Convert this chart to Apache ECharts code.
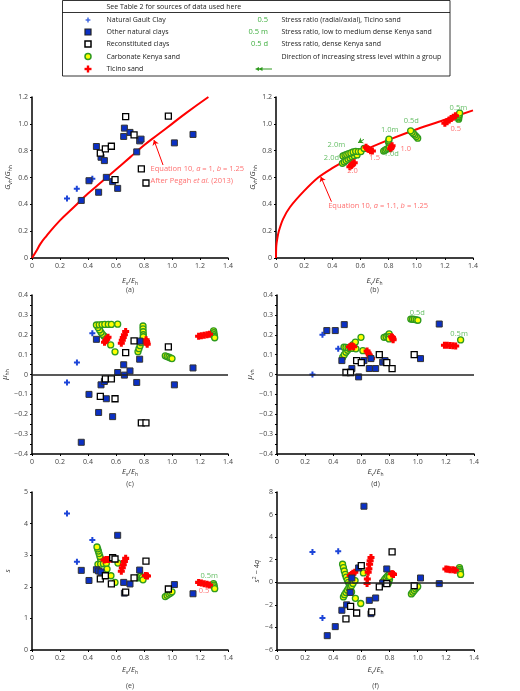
<!DOCTYPE html>
<html>
<head>
<meta charset="utf-8">
<script src="https://cdn.jsdelivr.net/npm/echarts@6/dist/echarts.min.js"></script>
<style>
  html, body { margin: 0; padding: 0; background: #fff; }
  #main { width: 520px; height: 691px; }
</style>
</head>
<body>
<div id="main"></div>
<script>
var F = 'Open Sans';
var BLUE = '#0b30c4', RED = '#ff0000', GREEN = '#2e9a1e', YEL = '#ffff00', LGREEN = '#3fae3f', LRED = '#ff4b4b';

// (a) Gvh/Ghh, clays
var gaultA = [[0.25, 0.444], [0.32, 0.516], [0.431, 0.59]];
var naturalA = [[0.352, 0.429], [0.407, 0.576], [0.46, 0.831], [0.476, 0.49], [0.493, 0.751], [0.517, 0.726], [0.531, 0.601], [0.576, 0.569], [0.612, 0.519], [0.655, 0.906], [0.66, 0.968], [0.70, 0.936], [0.748, 0.791], [0.769, 0.873], [0.779, 0.886], [1.017, 0.858], [1.15, 0.921]];
var reconA = [[0.488, 0.781], [0.524, 0.813], [0.567, 0.833], [0.593, 0.584], [0.669, 1.053], [0.729, 0.918], [0.781, 0.664], [0.814, 0.559], [0.974, 1.058]];
var curveA = [[0, 0], [0.03, 0.05], [0.06, 0.105], [0.1, 0.16], [0.2, 0.28], [0.3, 0.38], [0.4, 0.48], [0.5, 0.57], [0.6, 0.66], [0.7, 0.75], [0.8, 0.84], [0.9, 0.92], [1.0, 1.0], [1.1, 1.08], [1.26, 1.2]];

// (b) Gvh/Ghh, sands
var kenyaB = [[0.472, 0.706], [0.485, 0.716], [0.498, 0.726], [0.512, 0.736], [0.526, 0.746], [0.54, 0.755], [0.555, 0.762], [0.576, 0.768],
  [0.476, 0.761], [0.49, 0.767], [0.503, 0.772], [0.517, 0.778], [0.532, 0.783], [0.548, 0.79], [0.566, 0.795], [0.585, 0.793], [0.604, 0.793], [0.626, 0.817],
  [0.765, 0.797], [0.775, 0.803], [0.785, 0.81], [0.796, 0.817], [0.806, 0.824],
  [0.8, 0.862], [0.801, 0.872], [0.803, 0.886],
  [1.007, 0.893], [0.997, 0.905], [0.987, 0.916], [0.977, 0.926], [0.967, 0.937], [0.957, 0.948],
  [1.298, 1.035], [1.298, 1.045], [1.3, 1.055], [1.302, 1.066], [1.305, 1.08]];
var ticinoB = [[0.525, 0.68], [0.535, 0.69], [0.545, 0.70], [0.556, 0.71],
  [0.64, 0.825], [0.65, 0.815], [0.66, 0.808], [0.672, 0.80], [0.685, 0.797],
  [0.815, 0.815], [0.82, 0.825], [0.825, 0.836],
  [1.20, 1.005], [1.215, 1.016], [1.23, 1.028], [1.245, 1.04], [1.26, 1.05], [1.275, 1.06]];
var curveB = [[0, 0], [0.002, 0.09], [0.01, 0.15], [0.02, 0.2], [0.05, 0.29], [0.1, 0.38], [0.2, 0.5], [0.3, 0.6], [0.4, 0.67], [0.5, 0.73], [0.6, 0.79], [0.8, 0.88], [1.0, 0.96], [1.2, 1.03], [1.4, 1.1]];
var greenLabB = [[1.296, 1.12, '0.5m'], [0.962, 1.021, '0.5d'], [0.808, 0.954, '1.0m'], [0.82, 0.773, '1.0d'], [0.429, 0.847, '2.0m'], [0.394, 0.743, '2.0d']];
var redLabB = [[1.277, 0.961, '0.5'], [0.922, 0.81, '1.0'], [0.701, 0.747, '1.5'], [0.543, 0.648, '2.0']];

// (c) mu_hh
var gaultC = [[0.25, -0.04], [0.321, 0.06], [0.431, 0.207]];
var naturalC = [[0.352, -0.341], [0.407, -0.10], [0.46, 0.177], [0.476, -0.191], [0.493, -0.052], [0.517, -0.035], [0.531, -0.122], [0.576, -0.212], [0.612, 0.01], [0.655, 0.049], [0.66, -0.003], [0.70, 0.018], [0.748, -0.04], [0.769, 0.077], [0.771, 0.168], [1.017, -0.052], [1.15, 0.033]];
var reconC = [[0.488, -0.11], [0.524, -0.022], [0.567, -0.022], [0.593, -0.122], [0.669, 0.11], [0.729, 0.169], [0.781, -0.243], [0.814, -0.243], [0.974, 0.139]];
var kenyaC = [[0.514, 0.194], [0.503, 0.202], [0.493, 0.212], [0.483, 0.224], [0.472, 0.236], [0.46, 0.249],
  [0.48, 0.25], [0.5, 0.251], [0.52, 0.252], [0.545, 0.252], [0.567, 0.252],
  [0.612, 0.253], [0.562, 0.149], [0.593, 0.114],
  [0.757, 0.115], [0.764, 0.13], [0.772, 0.145], [0.78, 0.16], [0.787, 0.172], [0.794, 0.182],
  [0.793, 0.244], [0.793, 0.23], [0.794, 0.215], [0.795, 0.2], [0.795, 0.19],
  [0.952, 0.094], [0.965, 0.09], [0.978, 0.087], [0.99, 0.083], [1.0, 0.08],
  [1.297, 0.22], [1.299, 0.21], [1.301, 0.2], [1.303, 0.192], [1.305, 0.185]];
var ticinoC = [[0.518, 0.162], [0.526, 0.17], [0.534, 0.178], [0.543, 0.187],
  [0.638, 0.157], [0.645, 0.172], [0.652, 0.186], [0.66, 0.2], [0.669, 0.216],
  [0.815, 0.175], [0.818, 0.166], [0.82, 0.16], [0.823, 0.152],
  [1.19, 0.192], [1.21, 0.195], [1.23, 0.197], [1.25, 0.2], [1.268, 0.203]];

// (d) mu_vh
var gaultD = [[0.252, 0.0], [0.323, 0.2], [0.435, 0.13]];
var naturalD = [[0.354, 0.221], [0.414, 0.221], [0.461, 0.07], [0.478, 0.251], [0.532, 0.03], [0.58, -0.012], [0.618, 0.07], [0.656, 0.03], [0.668, 0.08], [0.701, 0.03], [0.751, 0.062], [0.768, 0.07], [1.02, 0.08], [1.153, 0.254]];
var reconD = [[0.49, 0.01], [0.523, 0.01], [0.566, 0.07], [0.599, 0.06], [0.727, 0.10], [0.78, 0.06], [0.818, 0.03], [0.975, 0.10]];
var kenyaD = [[0.467, 0.087], [0.478, 0.1], [0.49, 0.112], [0.502, 0.122], [0.514, 0.131], [0.527, 0.14], [0.54, 0.15],
  [0.476, 0.137], [0.49, 0.136], [0.505, 0.135], [0.52, 0.134], [0.54, 0.131], [0.561, 0.129],
  [0.557, 0.163], [0.597, 0.187], [0.61, 0.12],
  [0.761, 0.187], [0.775, 0.19], [0.788, 0.196], [0.797, 0.204], [0.797, 0.19], [0.797, 0.179],
  [0.951, 0.279], [0.963, 0.278], [0.976, 0.277], [0.989, 0.275], [1.001, 0.273],
  [1.305, 0.174]];
var ticinoD = [[0.515, 0.138], [0.525, 0.142], [0.535, 0.143], [0.545, 0.14],
  [0.64, 0.118], [0.648, 0.108], [0.656, 0.098], [0.664, 0.088], [0.672, 0.08],
  [0.815, 0.19], [0.82, 0.186], [0.823, 0.18], [0.825, 0.175],
  [1.19, 0.147], [1.21, 0.147], [1.23, 0.146], [1.25, 0.145], [1.27, 0.143]];
var greenLabD = [[0.997, 0.312, '0.5d'], [1.294, 0.203, '0.5m']];

// (e) s
var gaultE = [[0.25, 4.32], [0.321, 2.79], [0.431, 3.48]];
var naturalE = [[0.352, 2.52], [0.407, 2.2], [0.46, 2.54], [0.476, 2.5], [0.493, 2.47], [0.612, 3.63], [0.655, 2.14], [0.66, 1.8], [0.70, 2.09], [0.769, 2.53], [1.017, 2.07], [1.15, 1.78]];
var reconE = [[0.488, 2.25], [0.524, 2.35], [0.567, 2.09], [0.576, 2.92], [0.593, 2.88], [0.669, 1.83], [0.729, 2.28], [0.814, 2.81], [0.974, 1.93]];
var kenyaE = [[0.495, 2.8], [0.49, 2.88], [0.485, 2.96], [0.479, 3.05], [0.474, 3.13], [0.469, 3.2], [0.464, 3.26],
  [0.471, 2.71], [0.49, 2.72], [0.51, 2.73], [0.531, 2.74],
  [0.536, 2.56], [0.564, 2.35], [0.593, 2.14], [0.614, 2.75],
  [0.757, 2.28], [0.768, 2.31], [0.778, 2.34], [0.788, 2.3], [0.793, 2.22],
  [0.952, 1.69], [0.965, 1.73], [0.978, 1.77], [0.99, 1.8], [1.0, 1.84],
  [1.297, 2.1], [1.3, 2.05], [1.302, 2.0], [1.305, 1.94]];
var ticinoE = [[0.515, 2.85], [0.53, 2.86], [0.545, 2.86], [0.56, 2.87],
  [0.638, 2.49], [0.645, 2.6], [0.652, 2.7], [0.66, 2.8], [0.669, 2.9],
  [0.81, 2.36], [0.818, 2.35], [0.825, 2.34],
  [1.19, 2.14], [1.21, 2.12], [1.23, 2.1], [1.25, 2.08], [1.268, 2.06]];
var greenLabE = [[1.266, 2.34, '0.5m']];
var redLabE = [[1.229, 1.88, '0.5']];

// (f) s^2 - 4q
var gaultF = [[0.252, 2.69], [0.323, -3.16], [0.435, 2.75]];
var naturalF = [[0.357, -4.73], [0.414, -3.93], [0.461, -2.48], [0.495, -2.0], [0.52, -0.9], [0.532, 0.38], [0.58, 1.27], [0.618, 6.74], [0.656, -1.6], [0.668, -2.78], [0.701, -1.39], [0.751, -0.06], [0.78, 1.18], [1.02, 0.38], [1.153, -0.12]];
var reconF = [[0.49, -3.25], [0.523, -2.13], [0.566, -2.72], [0.599, 1.48], [0.673, -2.63], [0.727, -0.41], [0.78, -0.12], [0.818, 2.69], [0.975, -0.3]];
var kenyaF = [[0.466, 1.6], [0.472, 1.3], [0.478, 1.0], [0.485, 0.7], [0.492, 0.45], [0.5, 0.2], [0.508, 0.0], [0.515, -0.2], [0.522, -0.4],
  [0.472, -1.3], [0.48, -1.1], [0.49, -0.9], [0.5, -0.7], [0.51, -0.5], [0.52, -0.4], [0.53, -0.3], [0.54, -0.1], [0.555, 0.15],
  [0.53, -0.85], [0.557, -1.42], [0.595, -1.88], [0.614, 0.83],
  [0.757, 0.1], [0.765, 0.25], [0.775, 0.4], [0.785, 0.55], [0.795, 0.65], [0.8, 0.7],
  [0.79, -0.1], [0.795, 0.1], [0.8, 0.3], [0.8, 0.5],
  [0.955, -1.03], [0.965, -0.88], [0.975, -0.73], [0.985, -0.58], [0.995, -0.45], [1.0, -0.38],
  [1.297, 1.3], [1.299, 1.15], [1.301, 1.0], [1.303, 0.85], [1.305, 0.7]];
var ticinoF = [[0.52, 0.6], [0.53, 0.7], [0.54, 0.8], [0.553, 0.9],
  [0.64, -0.1], [0.642, 0.3], [0.648, 0.9], [0.653, 1.2], [0.658, 1.6], [0.662, 1.9], [0.668, 2.2],
  [0.815, 0.75], [0.822, 0.75], [0.828, 0.7],
  [1.2, 1.18], [1.215, 1.15], [1.23, 1.12], [1.25, 1.1], [1.267, 1.06]];

// legend texts
var legendRows = ['Natural Gault Clay', 'Other natural clays', 'Reconstituted clays', 'Carbonate Kenya sand', 'Ticino sand'];
var ratioKeys = ['0.5', '0.5 m', '0.5 d'];
var ratioText = ['Stress ratio (radial/axial), Ticino sand', 'Stress ratio, low to medium dense Kenya sand', 'Stress ratio, dense Kenya sand', 'Direction of increasing stress level within a group'];
var captions = ['(a)', '(b)', '(c)', '(d)', '(e)', '(f)'];

var chart = echarts.init(document.getElementById('main'));

var rich = {
  i: { fontFamily: F, fontSize: 7.5, fontStyle: 'italic', color: '#333' },
  n: { fontFamily: F, fontSize: 7.5, color: '#333' },
  s: { fontFamily: F, fontSize: 5, color: '#333', padding: [5, 0, 0, 0] },
  p: { fontFamily: F, fontSize: 5, color: '#333', padding: [0, 0, 5, 0] }
};
var eqRich = {
  n: { fontFamily: F, fontSize: 7.5, color: LRED },
  i: { fontFamily: F, fontSize: 7.5, color: LRED, fontStyle: 'italic' }
};
var PLUS = 'path://M-1,-3H1V-1H3V1H1V3H-1V1H-3V-1H-1Z';
var PLUS_B = 'path://M-1.3,-3H1.3V-1.3H3V1.3H1.3V3H-1.3V1.3H-3V-1.3H-1.3Z';

function fmt(v) {
  if (Math.abs(v) < 1e-9) return '0';
  return (v < 0 ? '\u2212' : '') + Math.abs(v).toFixed(1);
}
function fmtInt(v) {
  if (Math.abs(v) < 1e-9) return '0';
  return (v < 0 ? '\u2212' : '') + Math.abs(v);
}

var grids = [
  { left: 32, top: 97, width: 196, height: 161 },
  { left: 276, top: 97, width: 197, height: 161 },
  { left: 32, top: 295, width: 196, height: 159 },
  { left: 277, top: 295, width: 197, height: 159 },
  { left: 32, top: 492, width: 196, height: 158 },
  { left: 277, top: 492, width: 197, height: 158 }
];
var xGaps = [18, 18, 13, 13, 15, 15];
var yNames = ['{i|G}{s|vh}{n|/}{i|G}{s|hh}', '{i|G}{s|vh}{n|/}{i|G}{s|hh}', '{i|\u03bc}{s|hh}', '{i|\u03bc}{s|vh}', '{i|s}', '{i|s}{p|2}{n| \u2212 4}{i|q}'];
var yGaps = [19, 16, 20, 17, 20, 14];
var yRange = [[0, 1.2, 0.2, fmt], [0, 1.2, 0.2, fmt], [-0.4, 0.4, 0.1, fmt], [-0.4, 0.4, 0.1, fmt], [0, 5, 1, fmtInt], [-6, 8, 2, fmtInt]];
var capTops = [286, 286, 480, 480, 682, 682];

var xAxis = [], yAxis = [], title = [];
for (var k = 0; k < 6; k++) {
  xAxis.push({
    gridIndex: k, type: 'value', min: 0, max: 1.4, interval: 0.2,
    name: '{i|E}{s|v}{n|/}{i|E}{s|h}', nameLocation: 'middle', nameGap: xGaps[k],
    nameTextStyle: { rich: rich },
    axisLine: { onZero: false, lineStyle: { color: '#000', width: 1.5 } },
    axisTick: { show: true, length: 2, lineStyle: { color: '#000' } },
    axisLabel: { fontFamily: F, fontSize: 7, color: '#444', margin: 4, formatter: fmt },
    splitLine: { show: false }
  });
  yAxis.push({
    gridIndex: k, type: 'value', min: yRange[k][0], max: yRange[k][1], interval: yRange[k][2],
    name: yNames[k], nameLocation: 'middle', nameGap: yGaps[k],
    nameTextStyle: { rich: rich },
    axisLine: { onZero: false, lineStyle: { color: '#000', width: 1.5 } },
    axisTick: { show: true, length: 2, lineStyle: { color: '#000' } },
    minorTick: { show: k == 2 || k == 3, splitNumber: 2, length: 2, lineStyle: { color: '#000' } },
    axisLabel: { fontFamily: F, fontSize: 7, color: '#444', margin: 4, formatter: yRange[k][3] },
    splitLine: { show: false }
  });
  var g = grids[k];
  title.push({
    text: captions[k], left: g.left + g.width / 2, top: capTops[k], textAlign: 'center', padding: 0,
    textStyle: { fontFamily: F, fontSize: 7, fontWeight: 'normal', color: '#444' }
  });
}

function scat(k, data, sym, size, color, border, bw, z) {
  return {
    type: 'scatter', xAxisIndex: k, yAxisIndex: k, data: data, symbol: sym, symbolSize: size,
    itemStyle: { color: color, borderColor: border, borderWidth: bw, opacity: 1 },
    z: z, silent: true
  };
}
function labels(k, data, color) {
  return {
    type: 'scatter', xAxisIndex: k, yAxisIndex: k, data: data, symbolSize: 1,
    itemStyle: { color: 'rgba(0,0,0,0)' }, silent: true, z: 6,
    label: {
      show: true, position: 'inside', color: color, fontFamily: F, fontSize: 7.5,
      formatter: function (p) { return p.data[2]; }
    }
  };
}
function zeroLine() {
  return {
    silent: true, symbol: 'none', label: { show: false },
    lineStyle: { color: '#222', width: 1.5, type: 'solid' },
    data: [{ yAxis: 0 }]
  };
}
function arrow(from, to, color) {
  return {
    silent: true, symbol: ['none', 'arrow'], symbolSize: 5, label: { show: false },
    lineStyle: { color: color, width: 1, type: 'solid' },
    data: [[{ coord: from }, { coord: to }]]
  };
}

function panel(k, gault, natural, recon, kenya, ticino) {
  var list = [];
  if (kenya) list.push(scat(k, kenya, 'circle', 6, YEL, GREEN, 1.3, 3));
  if (ticino) list.push(scat(k, ticino, PLUS_B, 7, RED, RED, 0, 3));
  if (gault) list.push(scat(k, gault, PLUS, 6, '#1d45d8', '#1d45d8', 0, 4));
  if (natural) list.push(scat(k, natural, 'rect', 6, BLUE, '#333', 1, 4));
  if (recon) list.push(scat(k, recon, 'rect', 6, '#fff', '#000', 1.3, 4));
  return list;
}

var series = [];
series = series.concat(panel(0, gaultA, naturalA, reconA, null, null));
series.push({
  type: 'line', xAxisIndex: 0, yAxisIndex: 0, data: curveA, smooth: true, showSymbol: false, silent: true,
  lineStyle: { color: RED, width: 2 }, z: 2,
  markLine: arrow([0.936, 0.693], [0.871, 0.879], RED)
});
series.push({
  type: 'scatter', xAxisIndex: 0, yAxisIndex: 0, symbolSize: 1, silent: true, z: 6,
  itemStyle: { color: 'rgba(0,0,0,0)' },
  data: [[0.843, 0.663, '{n|Equation 10, }{i|a}{n| = 1, }{i|b}{n| = 1.25}'], [0.843, 0.574, '{n|After Pegah }{i|et al.}{n| (2013)}']],
  label: { show: true, position: 'right', distance: 0, rich: eqRich, formatter: function (p) { return p.data[2]; } }
});

series = series.concat(panel(1, null, null, null, kenyaB, ticinoB));
series.push({
  type: 'line', xAxisIndex: 1, yAxisIndex: 1, data: curveB, smooth: 0.3, showSymbol: false, silent: true,
  lineStyle: { color: RED, width: 2 }, z: 2,
  markLine: arrow([0.394, 0.42], [0.318, 0.606], RED)
});
series.push({
  type: 'scatter', xAxisIndex: 1, yAxisIndex: 1, symbolSize: 1, silent: true, z: 6,
  itemStyle: { color: 'rgba(0,0,0,0)' },
  data: [[0.367, 0.387, '{n|Equation 10, }{i|a}{n| = 1.1, }{i|b}{n| = 1.25}']],
  label: { show: true, position: 'right', distance: 0, rich: eqRich, formatter: function (p) { return p.data[2]; } }
});
var lb = labels(1, greenLabB, LGREEN);
lb.markLine = arrow([0.625, 0.884], [0.583, 0.859], GREEN);
series.push(lb);
series.push(labels(1, redLabB, LRED));

var pc = panel(2, gaultC, naturalC, reconC, kenyaC, ticinoC);
pc[0].markLine = zeroLine();
series = series.concat(pc);

var pd = panel(3, gaultD, naturalD, reconD, kenyaD, ticinoD);
pd[0].markLine = zeroLine();
series = series.concat(pd);
series.push(labels(3, greenLabD, LGREEN));

series = series.concat(panel(4, gaultE, naturalE, reconE, kenyaE, ticinoE));
series.push(labels(4, greenLabE, LGREEN));
series.push(labels(4, redLabE, LRED));

var pf = panel(5, gaultF, naturalF, reconF, kenyaF, ticinoF);
pf[0].markLine = zeroLine();
series = series.concat(pf);

// legend box
var rowY = [20, 32, 44, 56.5, 69];
var txt = { fontFamily: F, fontSize: 7, fill: '#222', verticalAlign: 'middle' };
var graphic = [
  { type: 'rect', shape: { x: 62.5, y: 0.5, width: 387.5, height: 75.5 }, style: { fill: 'none', stroke: '#000', lineWidth: 0.8 } },
  { type: 'line', shape: { x1: 62.5, y1: 12.5, x2: 450, y2: 12.5 }, style: { stroke: '#000', lineWidth: 0.8 } },
  { type: 'text', x: 106.5, y: 7, style: Object.assign({ text: 'See Table 2 for sources of data used here' }, txt) },
  { type: 'rect', shape: { x: 85.6, y: rowY[0] - 0.7, width: 4.8, height: 1.4 }, style: { fill: '#3a63e0' } },
  { type: 'rect', shape: { x: 87.3, y: rowY[0] - 2.4, width: 1.4, height: 4.8 }, style: { fill: '#3a63e0' } },
  { type: 'rect', shape: { x: 85, y: rowY[1] - 3, width: 6, height: 6 }, style: { fill: BLUE, stroke: '#222', lineWidth: 1.2 } },
  { type: 'rect', shape: { x: 85, y: rowY[2] - 3, width: 6, height: 6 }, style: { fill: '#fff', stroke: '#000', lineWidth: 1.5 } },
  { type: 'circle', shape: { cx: 88, cy: rowY[3], r: 3 }, style: { fill: YEL, stroke: GREEN, lineWidth: 1.5 } },
  { type: 'rect', shape: { x: 84.5, y: rowY[4] - 1.2, width: 7, height: 2.4 }, style: { fill: RED } },
  { type: 'rect', shape: { x: 86.8, y: rowY[4] - 3.5, width: 2.4, height: 7 }, style: { fill: RED } },
  { type: 'line', shape: { x1: 258, y1: rowY[4], x2: 272, y2: rowY[4] }, style: { stroke: GREEN, lineWidth: 1 } },
  { type: 'polygon', shape: { points: [[255, rowY[4]], [259, rowY[4] - 2], [259, rowY[4] + 2]] }, style: { fill: GREEN } },
  { type: 'polygon', shape: { points: [[258.5, rowY[4]], [262.5, rowY[4] - 2], [262.5, rowY[4] + 2]] }, style: { fill: GREEN } }
];
for (var r = 0; r < legendRows.length; r++) {
  graphic.push({ type: 'text', x: 106.5, y: rowY[r], style: Object.assign({ text: legendRows[r] }, txt) });
}
for (var q = 0; q < ratioText.length; q++) {
  graphic.push({ type: 'text', x: 281.5, y: rowY[q], style: Object.assign({ text: ratioText[q] }, txt) });
  if (q < ratioKeys.length) {
    graphic.push({ type: 'text', x: 268, y: rowY[q], style: Object.assign({}, txt, { text: ratioKeys[q], fill: LGREEN, align: 'right', fontSize: 7.5 }) });
  }
}

chart.setOption({
  animation: false,
  backgroundColor: '#fff',
  title: title,
  grid: grids,
  xAxis: xAxis,
  yAxis: yAxis,
  series: series,
  graphic: graphic
});
</script>
</body>
</html>
